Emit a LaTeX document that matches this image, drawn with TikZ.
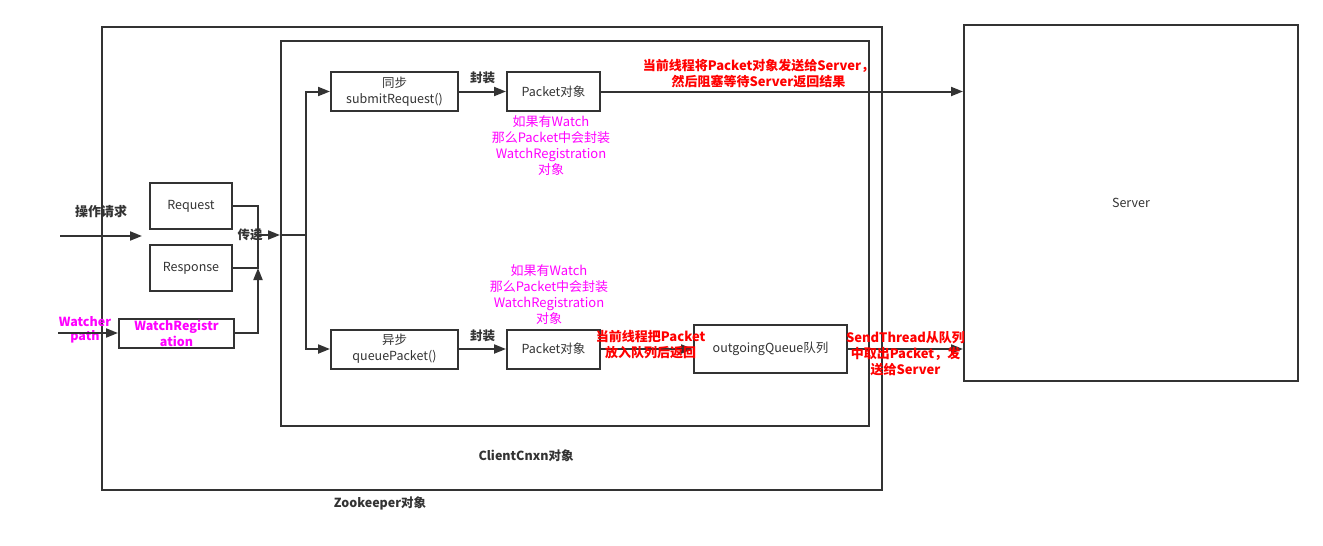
\documentclass[tikz,border=0pt]{standalone}
\usepackage{fontspec}
\setmainfont{Noto Sans CJK SC}
\usetikzlibrary{arrows.meta,positioning}
\definecolor{linegray}{HTML}{333333}
\definecolor{notered}{HTML}{FF0000}
\definecolor{notepink}{HTML}{FF00FF}

\begin{document}
\begin{tikzpicture}[
    x = 1pt, y = -1pt, % pixel grid, y downwards
    > = {Triangle[length=12pt,width=9pt]}, % arrow head style
    line width = 2pt,
    color = linegray,
    box/.style = {draw = linegray, line width = 2pt, fill = white,
        align = center, inner sep = 0pt, text = linegray,
        font = \fontsize{12.5}{16}\selectfont},
    tag/.style = {font = \fontsize{12.5}{16}\selectfont\bfseries, text = linegray},
    rednote/.style = {align = center, text = notered,
        font = \fontsize{13}{16}\selectfont\bfseries},
    pinknote/.style = {align = center, text = notepink,
        font = \fontsize{13}{16}\selectfont}
    ]

    \useasboundingbox (0,0) rectangle (1323,546);

    % containers
    \node[box, minimum width=780pt, minimum height=463pt] (zk) at (492,258.5) {};
    \node[box, minimum width=588pt, minimum height=385pt] (cnxn) at (575,233.5) {};
    \node[box, minimum width=334pt, minimum height=356pt] (server) at (1131,203) {Server};

    \node[tag] at (380,503) {Zookeeper对象};
    \node[tag] at (526,456) {ClientCnxn对象};

    % inputs
    \node[box, minimum width=82pt, minimum height=46pt] (req) at (191,206) {Request};
    \node[box, minimum width=82pt, minimum height=46pt] (resp) at (191,268) {Response};
    \node[box, minimum width=115pt, minimum height=29pt, text=notepink,
        font=\fontsize{12.5}{16}\selectfont\bfseries] (wreg) at (176.5,333) {WatchRegistr\\ation};

    \coordinate (opin) at (60,236);
    \coordinate (wpin) at (58,333);
    \coordinate (join) at (258,235);
    \coordinate (split) at (306,235);

    \node[font=\fontsize{13}{16}\selectfont\bfseries, text=linegray] at (101,212) {操作请求};
    \node[align=center, text=notepink, font=\fontsize{12.5}{14}\selectfont\bfseries]
        at (85,330) {Watcher\\path};

    % requests inside ClientCnxn
    \node[box, minimum width=127pt, minimum height=39pt] (submit) at (394.5,91.5) {同步\\submitRequest()};
    \node[box, minimum width=93pt, minimum height=39pt] (pktA) [right=47pt of submit] {Packet对象};
    \node[box, minimum width=127pt, minimum height=39pt] (queue) at (394.5,349) {异步\\queuePacket()};
    \node[box, minimum width=93pt, minimum height=39pt] (pktB) [right=47pt of queue] {Packet对象};
    \node[box, minimum width=153pt, minimum height=48pt] (outq) at (770.5,349) {outgoingQueue队列};

    \node[pinknote] at (551,146) {如果有Watch\\那么Packet中会封装\\WatchRegistration\\对象};
    \node[pinknote] at (549,295) {如果有Watch\\那么Packet中会封装\\WatchRegistration\\对象};

    % connectors
    \draw[->, shorten >= 7pt] (opin) -- (opin -| req.west);
    \draw[->] (wpin) -- (wreg.west);
    \draw (req.east) -| (join);
    \draw (resp.east) -| (join);
    \draw[->] (wreg.east) -| (resp.east -| join);
    \draw[->] (join) -- (join -| cnxn.west);
    \draw (join -| cnxn.west) -- (split);
    \node[tag] at (250,235) {传递};
    \draw[->] (split) |- (submit.west);
    \draw[->] (split) |- (queue.west);

    \draw[->] (submit) -- node[tag, above=3pt] {封装} (pktA);
    \draw[->] (queue) -- node[tag, above=3pt] {封装} (pktB);

    \draw[->] (pktA) -- node[rednote, pos=0.435, above=-1pt] {当前线程将Packet对象发送给Server，\\然后阻塞等待Server返回结果} (pktA -| server.west);
    \draw[->] (pktB) -- node[rednote, pos=0.54, above=-14pt] {当前线程把Packet\\放入队列后返回} (outq);
    \draw[->] (outq) -- node[rednote, pos=0.5, yshift=-5pt] {SendThread从队列\\中取出Packet，发\\送给Server} (outq -| server.west);

\end{tikzpicture}
\end{document}
